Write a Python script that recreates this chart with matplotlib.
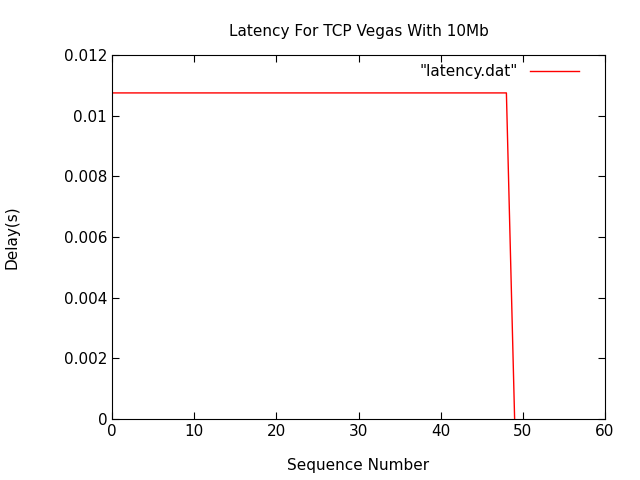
import numpy as np
import matplotlib
matplotlib.use('Agg')
import matplotlib.pyplot as plt

seq = list(range(0, 50))
delay = [0.01075] * 49 + [0.0]

fig = plt.figure(figsize=(6.4, 4.8), dpi=100)
ax = fig.add_axes([112/640, 1 - 419/480, 493/640, 364/480])
ax.plot(seq, delay, color='red', lw=1, label='"latency.dat"')
ax.set_xlim(0, 60)
ax.set_ylim(0, 0.012)
ax.set_xticks(np.arange(0, 61, 10))
ax.set_yticks([0, 0.002, 0.004, 0.006, 0.008, 0.01, 0.012])
ax.set_yticklabels(['0', '0.002', '0.004', '0.006', '0.008', '0.01', '0.012'])
ax.tick_params(direction='in', top=True, right=True, labelsize=11, length=5)
ax.set_title('Latency For TCP Vegas With 10Mb', fontsize=11, pad=14)
ax.set_xlabel('Sequence Number', fontsize=11, labelpad=14)
ax.set_ylabel('Delay(s)', fontsize=11, labelpad=32)
ax.legend(loc='upper right', frameon=False, fontsize=11, markerfirst=False,
          handlelength=3.2, bbox_to_anchor=(0.965, 1.0), borderaxespad=0.2)
fig.savefig('out.png', dpi=100)
